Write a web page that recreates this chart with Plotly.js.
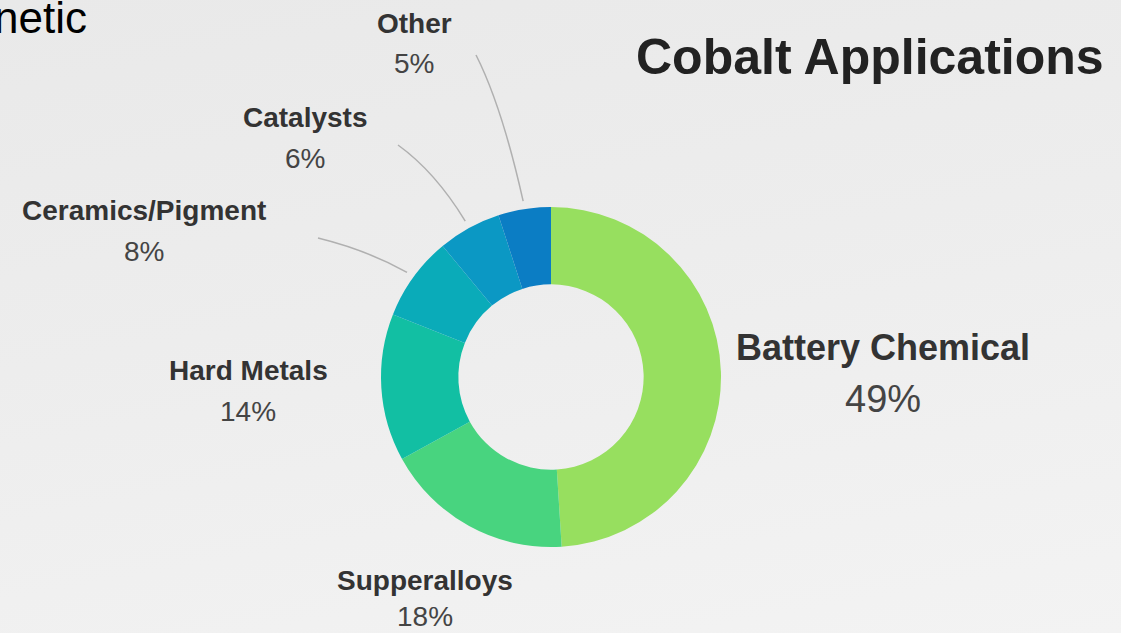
<!DOCTYPE html>
<html>
<head>
<meta charset="utf-8">
<script src="https://cdn.plot.ly/plotly-3.0.1.min.js"></script>
<style>
  html, body { margin: 0; padding: 0; width: 1121px; height: 633px; overflow: hidden;
    background: linear-gradient(170deg, #e9e9e9 0%, #ededed 45%, #f3f3f3 100%); }
  #chart { width: 1121px; height: 633px; }
</style>
</head>
<body>
<div id="chart"></div>
<script>
// ---- data ----
const categories = ["Battery Chemical", "Supperalloys", "Hard Metals", "Ceramics/Pigment", "Catalysts", "Other"];
const shares = [49, 18, 14, 8, 6, 5];
const sliceColors = ["#97df5f", "#48d47f", "#12bfa3", "#0aabb9", "#0b98c4", "#0b7dc4"];
const chartTitle = "Cobalt Applications";
const cornerText = "netic";

// ---- layout helpers (pixel -> paper) ----
const W = 1121, H = 633;
const px = x => x / W;
const py = y => 1 - y / H;
const CX = 551, CY = 377, R = 170;

// label placement (pixels), per category
const labelPos = [
  {x: 883, yName: 347, yPct: 399, nameSize: 36, pctSize: 38},
  {x: 425, yName: 580, yPct: 616, nameSize: 28, pctSize: 28},
  {x: 248, yName: 370, yPct: 411, nameSize: 28, pctSize: 28},
  {x: 144, yName: 210, yPct: 251, nameSize: 28, pctSize: 28},
  {x: 305, yName: 118, yPct: 158, nameSize: 28, pctSize: 28},
  {x: 414, yName: 23,  yPct: 63,  nameSize: 28, pctSize: 28}
];
// leader line starts (pixels) for the small slices
const leaderStart = {3: [318, 238], 4: [398, 145], 5: [476, 55]};

const total = shares.reduce((a, b) => a + b, 0);
const FONT = 'Liberation Sans, Arial, sans-serif';

const annotations = [];
categories.forEach((c, i) => {
  const p = labelPos[i];
  annotations.push({x: px(p.x), y: py(p.yName), xref: 'paper', yref: 'paper', showarrow: false,
    xanchor: 'center', yanchor: 'middle', text: '<b>' + c + '</b>',
    font: {family: FONT, size: p.nameSize, color: '#333333'}});
  annotations.push({x: px(p.x), y: py(p.yPct), xref: 'paper', yref: 'paper', showarrow: false,
    xanchor: 'center', yanchor: 'middle', text: Math.round(shares[i] / total * 100) + '%',
    font: {family: FONT, size: p.pctSize, color: '#444444'}});
});
annotations.push({x: px(870), y: py(57), xref: 'paper', yref: 'paper', showarrow: false,
  xanchor: 'center', yanchor: 'middle', text: '<b>' + chartTitle + '</b>',
  font: {family: FONT, size: 50, color: '#222222'}});
annotations.push({x: px(89), y: py(18), xref: 'paper', yref: 'paper', showarrow: false,
  xanchor: 'right', yanchor: 'middle', text: cornerText,
  font: {family: FONT, size: 44, color: '#000000'}});

// leader lines computed from slice mid-angles
const shapes = [];
let cum = 0;
shares.forEach((v, i) => {
  const mid = (cum + v / 2) / total * 2 * Math.PI; cum += v;
  if (leaderStart[i]) {
    const ex = CX + (R + 8) * Math.sin(mid);
    const ey = CY - (R + 8) * Math.cos(mid);
    const [sx, sy] = leaderStart[i];
    const cx = sx + (ex - sx) * 0.55;
    const cy = sy + (ey - sy) * 0.35;
    shapes.push({type: 'path', xref: 'paper', yref: 'paper',
      path: `M ${px(sx)},${py(sy)} Q ${px(cx)},${py(cy)} ${px(ex)},${py(ey)}`,
      line: {color: '#b0b0b0', width: 1.5}});
  }
});

const trace = {
  type: 'pie', labels: categories, values: shares,
  marker: {colors: sliceColors, line: {width: 0}},
  hole: 0.545, sort: false, direction: 'clockwise', rotation: 0,
  textinfo: 'none', hoverinfo: 'label+percent',
  domain: {x: [px(CX - R), px(CX + R)], y: [py(CY + R), py(CY - R)]}
};

Plotly.newPlot('chart', [trace], {
  width: W, height: H, margin: {l: 0, r: 0, t: 0, b: 0},
  paper_bgcolor: 'rgba(0,0,0,0)', plot_bgcolor: 'rgba(0,0,0,0)',
  showlegend: false, annotations: annotations, shapes: shapes
}, {displayModeBar: false, staticPlot: true});
</script>
</body>
</html>
